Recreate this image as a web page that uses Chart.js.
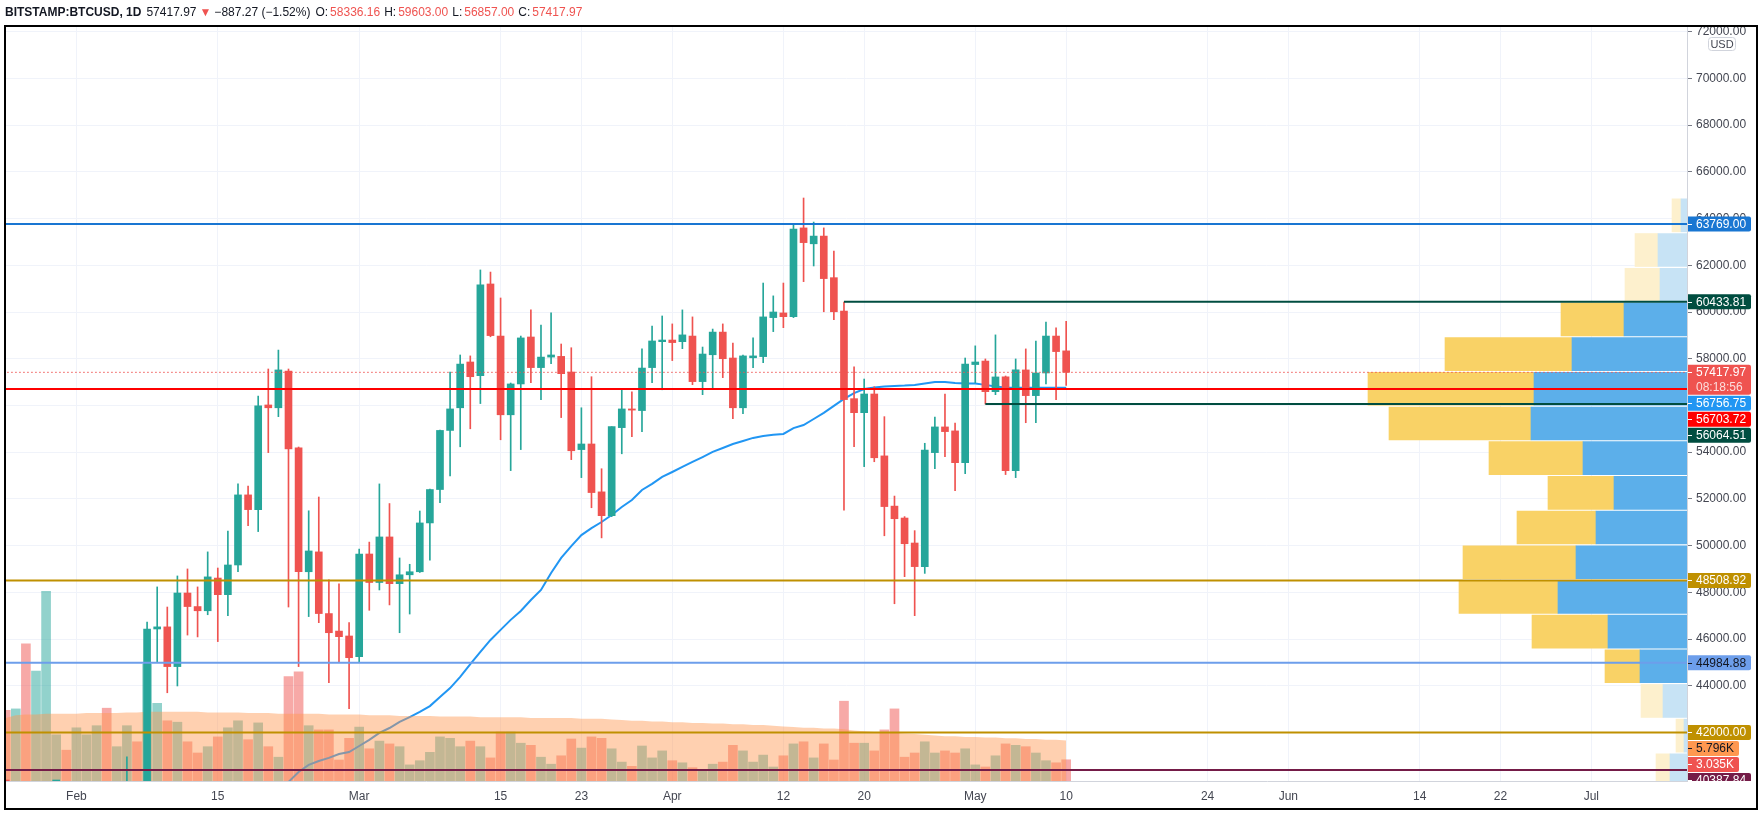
<!DOCTYPE html>
<html>
<head>
<meta charset="UTF-8" />
<title>BITSTAMP:BTCUSD, 1D</title>
<style>
  html, body { margin: 0; padding: 0; background: #fff; }
  #chartBox { width: 1761px; height: 819px; }
</style>
</head>
<body>
<div id="chartBox"><canvas id="myChart" width="1761" height="819"></canvas></div>

<script src="https://cdn.jsdelivr.net/npm/chart.js"></script>
<script>
// daily candles, index 0 = 2021-01-25, last = 2021-05-10
const firstDay = '2021-01-25';
const open = [32290, 32260, 32500, 30400, 33420, 34270, 34300, 33110, 33540, 35500,
  37660, 36950, 38300, 39270, 38900, 46430, 46520, 44820, 47970, 47390,
  47210, 48610, 47900, 49170, 52170, 51540, 56020, 55900, 57470, 54180,
  48880, 49730, 47090, 46340, 46130, 45240, 49640, 48420, 50370, 48370,
  48750, 48880, 50970, 52400, 54930, 55900, 57860, 57270, 61200, 58970,
  55600, 56920, 58930, 57620, 58070, 58100, 57430, 54110, 54350, 52300,
  51280, 55050, 55850, 55780, 57620, 58730, 58800, 58730, 58970, 57020,
  58170, 59140, 58030, 55900, 58040, 58090, 59760, 59960, 59800, 63600,
  62920, 63250, 61470, 60040, 56290, 55690, 56490, 53840, 51690, 51180,
  50110, 49100, 53980, 55080, 54910, 53550, 57750, 57900, 56590, 57220,
  53210, 57520, 56420, 57390, 58970, 58336.16];
const high = [34880, 32900, 32560, 33800, 38590, 34900, 34350, 34700, 35900, 37700,
  38700, 38300, 40960, 39700, 46730, 48230, 47370, 48700, 49000, 48230,
  49730, 49040, 50620, 52640, 52550, 56400, 57560, 58370, 57560, 54220,
  51490, 52080, 48530, 48360, 46700, 49850, 50150, 52640, 51800, 49470,
  49200, 51480, 52420, 54950, 57430, 58160, 58120, 61800, 61710, 60600,
  56960, 58970, 60090, 59440, 59960, 58630, 58470, 55900, 57230, 53290,
  55090, 56700, 56580, 58420, 59400, 59830, 59490, 60090, 59790, 58500,
  59270, 59490, 58670, 58160, 58890, 61240, 60690, 61240, 63730, 64880,
  63850, 63600, 62610, 60430, 57650, 57130, 56800, 55520, 52120, 51240,
  50640, 54380, 55500, 56490, 55240, 58030, 58550, 57990, 59020, 57260,
  57990, 58420, 58760, 59570, 59320, 59603.00];
const low = [31900, 30850, 29240, 30000, 31970, 32850, 32300, 32300, 33420, 35400,
  36200, 36600, 38200, 37400, 37950, 45030, 43700, 43990, 46170, 46090,
  47040, 45890, 47000, 48880, 50850, 50600, 53980, 55520, 47370, 44820,
  46960, 46700, 44130, 45030, 43020, 45030, 47230, 48100, 47460, 46270,
  47070, 48850, 49380, 51840, 52980, 54230, 55000, 56080, 58940, 54530,
  53210, 54110, 56970, 56250, 57790, 55480, 53680, 52910, 51620, 50330,
  51240, 53930, 54660, 54880, 56970, 56670, 57920, 58430, 56890, 56460,
  56760, 57190, 55430, 55650, 57620, 57830, 59160, 59330, 59760, 61300,
  61970, 60010, 59670, 51520, 54230, 53380, 53590, 50420, 47510, 48670,
  47000, 48810, 53290, 53810, 52350, 53080, 56970, 56060, 56460, 53040,
  52910, 55260, 55260, 56920, 56250, 56857.00];
const close = [32260, 32500, 30400, 33420, 34300, 34300, 33110, 33540, 35500, 37660,
  36950, 38300, 39270, 38900, 46430, 46520, 44820, 47970, 47390, 47210,
  48660, 47900, 49170, 52170, 51540, 55980, 55900, 57520, 54140, 48880,
  49770, 47090, 46270, 46100, 45200, 49640, 48420, 50370, 48370, 48750,
  48880, 50970, 52400, 54930, 55850, 57770, 57230, 61160, 58990, 55600,
  56920, 58890, 57620, 58070, 58160, 57360, 54060, 54350, 52270, 51280,
  55090, 55850, 55800, 57600, 58760, 58800, 58690, 59020, 57020, 58200,
  59140, 58000, 55900, 58120, 58120, 59790, 60000, 59800, 63550, 62970,
  63250, 61430, 60010, 56250, 55690, 56490, 53760, 51670, 51150, 50080,
  49100, 54090, 55080, 54880, 53550, 57770, 57860, 56590, 57220, 53210,
  57520, 56420, 57390, 58970, 58305.24, 57417.97];

// volume, thousands of BTC
const volumeK = [10.1, 10.3, 19.6, 15.7, 27.1, 6.6, 4.4, 7.6, 6.6, 7.9,
  10.4, 4.9, 7.9, 5.6, 16.7, 11.1, 8.6, 8.4, 5.6, 4.0,
  4.9, 6.3, 7.6, 8.6, 5.9, 8.3, 4.9, 3.4, 14.9, 15.6,
  7.9, 7.3, 7.3, 3.0, 6.1, 7.7, 4.6, 5.7, 5.3, 4.9,
  2.3, 2.9, 4.1, 6.3, 6.1, 4.9, 5.7, 4.9, 3.3, 7.0,
  7.0, 5.4, 5.1, 3.4, 2.4, 3.6, 6.0, 4.7, 6.3, 6.1,
  4.6, 2.7, 2.1, 5.0, 3.3, 4.3, 2.9, 2.6, 1.9, 1.6,
  2.4, 2.7, 5.1, 4.3, 2.7, 3.7, 2.0, 3.6, 5.3, 5.6,
  3.3, 5.3, 3.0, 11.4, 5.4, 5.4, 4.3, 7.3, 10.3, 3.4,
  4.0, 5.6, 4.0, 4.3, 4.0, 4.6, 2.3, 2.0, 3.6, 5.3,
  5.1, 4.9, 4.0, 2.9, 2.6, 3.035];
const volumeMaK = [9.0, 9.4, 9.5, 9.5, 9.6, 9.6, 9.6, 9.6, 9.7, 9.7,
  9.7, 9.7, 9.8, 9.8, 9.9, 9.9, 9.9, 9.9, 9.9, 9.9,
  9.8, 9.8, 9.8, 9.8, 9.7, 9.7, 9.7, 9.6, 9.6, 9.6,
  9.6, 9.6, 9.5, 9.5, 9.5, 9.5, 9.4, 9.4, 9.4, 9.3,
  9.3, 9.3, 9.3, 9.2, 9.2, 9.2, 9.2, 9.1, 9.1, 9.1,
  9.1, 9.1, 9.0, 9.0, 9.0, 9.0, 9.0, 8.9, 8.9, 8.9,
  8.8, 8.7, 8.6, 8.6, 8.5, 8.5, 8.4, 8.4, 8.3, 8.3,
  8.2, 8.2, 8.1, 8.1, 8.0, 8.0, 7.9, 7.8, 7.7, 7.6,
  7.6, 7.5, 7.5, 7.4, 7.2, 7.1, 7.0, 6.9, 6.9, 6.8,
  6.7, 6.6, 6.5, 6.4, 6.4, 6.3, 6.3, 6.2, 6.2, 6.1,
  6.1, 6.0, 6.0, 5.9, 5.9, 5.796];

// blue moving average, from day index 26 on
const maStart = 26;
const maValues = [39110, 39540, 39880, 40310, 40610, 40780, 40910, 41080, 41160, 41420,
  41680, 41980, 42190, 42450, 42660, 42880, 43130, 43520, 43900, 44380,
  44930, 45450, 45960, 46390, 46820, 47200, 47670, 48100, 48830, 49470,
  49980, 50450, 50750, 51010, 51310, 51650, 51950, 52380, 52640, 52940,
  53150, 53370, 53580, 53790, 54010, 54180, 54350, 54480, 54610, 54690,
  54740, 54780, 55030, 55160, 55420, 55680, 55980, 56280, 56530, 56700,
  56770, 56810, 56830, 56850, 56880, 56940, 57000, 57000, 56960, 56940,
  56940, 56880, 56810, 56770, 56760, 56758, 56757, 56757, 56757, 56756.75];

// drawn horizontal levels (null start = whole width)
const levelPrices = [63769.00, 60433.81, 56703.72, 56064.51, 48508.92, 44984.88, 42000.00, 40387.84];
const levelFromDay = [null, 83, null, 97, null, null, null, null];
const levelColors = ['#1976d2', '#004d40', '#ff0000', '#004d40', '#bf9000', '#6d9eeb', '#bf9000', '#741b47'];
const levelText = ['#fff', '#fff', '#fff', '#fff', '#fff', '#131722', '#fff', '#fff'];

// visible range volume profile, rows from the top
const profilePrice = [64138.5, 62653.5, 61168.5, 59683.5, 58198.5, 56713.5, 55228.5, 53743.5, 52258.5,
  50773.5, 49288.5, 47803.5, 46318.5, 44833.5, 43348.5, 41863.5, 40378.5];
const profileUp = [6, 29, 27, 63, 115, 153, 156, 104, 73, 91, 111, 129, 79, 47, 24, 3, 17];
const profileDown = [9, 23, 35, 63, 127, 166, 142, 94, 66, 79, 113, 99, 76, 35, 22, 8, 14];
const profileValueArea = [false, false, false, true, true, true, true, true, true, true, true, true, true, true, false, false, false];

// axes
const priceTicks = [42000, 44000, 46000, 48000, 50000, 52000, 54000, 56000, 58000, 60000, 62000, 64000, 66000, 68000, 70000, 72000];
const tickDays = [7, 21, 35, 49, 57, 66, 77, 85, 96, 105, 119, 127, 140, 148, 157];
const tickLabels = ['Feb', '15', 'Mar', '15', '23', 'Apr', '12', '20', 'May', '10', '24', 'Jun', '14', '22', 'Jul'];
const countdown = '08:18:56';

const upColor = '#26a69a';
const downColor = '#ef5350';
const gridColor = '#f0f3fa';
const axisText = '#434651';
const fontFamily = '"Liberation Sans", Arial, sans-serif';
Chart.defaults.font.family = fontFamily;

const isUp = close.map((c, i) => c >= open[i]);
const candleColors = isUp.map(u => u ? upColor : downColor);
const volColors = isUp.map(u => u ? 'rgba(38,166,154,0.5)' : 'rgba(239,83,80,0.5)');

const wickData = close.map((c, i) => ({x: i, y: [low[i], high[i]]}));
const bodyData = close.map((c, i) => ({x: i, y: [open[i], c]}));
const volData = volumeK.map((v, i) => ({x: i, y: v}));
const volMaData = volumeMaK.map((v, i) => ({x: i, y: v}));
const maData = maValues.map((v, k) => ({x: maStart + k, y: v}));
const last = close.length - 1;

const levelSets = levelPrices.map((p, k) => ({
  type: 'line',
  data: [{x: levelFromDay[k] === null ? -5 : levelFromDay[k], y: p}, {x: 200, y: p}],
  borderColor: levelColors[k], borderWidth: 2, pointRadius: 0, order: 0, clip: 0
}));

const datasets = [
  { type: 'bar', data: volData, yAxisID: 'yVol', backgroundColor: volColors,
    barThickness: 9, grouped: false, order: 7, clip: 0 },
  { type: 'line', data: maData, borderColor: '#2196f3', borderWidth: 2,
    pointRadius: 0, order: 6, clip: 0 },
  { type: 'line', data: volMaData, yAxisID: 'yVol', fill: 'origin',
    backgroundColor: 'rgba(255,150,80,0.45)', borderWidth: 0, pointRadius: 0, order: 5, clip: 0 },
  { type: 'bar', data: wickData, backgroundColor: candleColors, barThickness: 1,
    grouped: false, order: 4, clip: 0 },
  { type: 'bar', data: bodyData, backgroundColor: candleColors, barThickness: 7,
    minBarLength: 1, grouped: false, order: 3, clip: 0 },
  { type: 'bar', indexAxis: 'y', xAxisID: 'xProf', yAxisID: 'y',
    data: profilePrice.map((p, k) => ({y: p, x: [0, profileUp[k]]})),
    backgroundColor: profileValueArea.map(v => v ? '#5cafea' : '#c7e3f5'),
    barThickness: 33, grouped: false, order: 2, clip: 0 },
  { type: 'bar', indexAxis: 'y', xAxisID: 'xProf', yAxisID: 'y',
    data: profilePrice.map((p, k) => ({y: p, x: [profileUp[k], profileUp[k] + profileDown[k]]})),
    backgroundColor: profileValueArea.map(v => v ? '#f9d266' : '#fdf0cd'),
    barThickness: 33, grouped: false, order: 2, clip: 0 },
  { type: 'line', data: [{x: -5, y: close[last]}, {x: 200, y: close[last]}],
    borderColor: downColor, borderWidth: 1, borderDash: [1.5, 2.5], pointRadius: 0, order: 1, clip: 0 }
].concat(levelSets);

const fmt2 = v => v.toFixed(2);

// header, price tags, frame
const overlay = {
  id: 'overlay',
  beforeDraw(chart) {
    const c = chart.ctx;
    c.save();
    c.fillStyle = '#fff';
    c.fillRect(0, 0, chart.width, chart.height);
    c.restore();
  },
  afterDraw(chart) {
    const c = chart.ctx;
    const ys = chart.scales.y, yv = chart.scales.yVol;
    const area = chart.chartArea;

    const tags = [];
    levelPrices.forEach((p, k) => tags.push({y: ys.getPixelForValue(p), lines: [fmt2(p)], bg: levelColors[k], fg: levelText[k], w: 63}));
    tags.push({y: ys.getPixelForValue(close[last]), lines: [fmt2(close[last]), countdown], bg: downColor, fg: '#fff', w: 63});
    tags.push({y: ys.getPixelForValue(maValues[maValues.length - 1]), lines: [fmt2(maValues[maValues.length - 1])], bg: '#2196f3', fg: '#fff', w: 63});
    tags.push({y: yv.getPixelForValue(volumeMaK[last]), lines: [volumeMaK[last].toFixed(3) + 'K'], bg: '#ff9850', fg: '#131722', w: 51});
    tags.push({y: yv.getPixelForValue(volumeK[last]), lines: [volumeK[last].toFixed(3) + 'K'], bg: isUp[last] ? upColor : downColor, fg: '#fff', w: 51});
    tags.sort((a, b) => a.y - b.y);
    let prevBottom = -1e9;
    tags.forEach(t => {
      t.h = t.lines.length > 1 ? 31 : 16;
      if (t.y - 8 < prevBottom) t.y = prevBottom + 8;
      prevBottom = t.y - 8 + t.h;
    });

    c.save();
    c.beginPath();
    c.rect(area.right, area.top, 80, area.bottom - area.top);
    c.clip();
    c.font = '12px ' + fontFamily;
    c.textBaseline = 'middle';
    c.textAlign = 'left';
    tags.forEach(t => {
      c.fillStyle = t.bg;
      c.beginPath();
      c.roundRect(area.right + 1, t.y - 7.5, t.w, t.h - 1, [0, 2, 2, 0]);
      c.fill();
      c.strokeStyle = t.fg;
      c.lineWidth = 1;
      c.beginPath();
      c.moveTo(area.right + 1, Math.round(t.y) + 0.5);
      c.lineTo(area.right + 5, Math.round(t.y) + 0.5);
      c.stroke();
      t.lines.forEach((s, k) => {
        c.fillStyle = k === 0 ? t.fg : 'rgba(255,255,255,0.8)';
        c.fillText(s, area.right + 9, t.y + 0.5 + k * 14.5);
      });
    });
    c.restore();

    // currency box
    c.save();
    c.fillStyle = '#fff';
    c.strokeStyle = '#d1d4dc';
    c.lineWidth = 1;
    c.beginPath();
    c.roundRect(1708.5, 37.5, 27, 13, 3);
    c.fill();
    c.stroke();
    c.fillStyle = axisText;
    c.font = '11px ' + fontFamily;
    c.textAlign = 'center';
    c.textBaseline = 'middle';
    c.fillText('USD', 1722, 44.5);
    c.restore();

    // frame
    c.save();
    c.strokeStyle = '#000';
    c.lineWidth = 2;
    c.strokeRect(5, 26, 1752, 783);
    c.restore();

    // header, laid out left to right
    const chg = close[last] - close[last - 1];
    const pct = chg / close[last - 1] * 100;
    const minus = v => (v < 0 ? '\u2212' : '+') + Math.abs(v).toFixed(2);
    const segs = [
      ['BITSTAMP:BTCUSD, 1D', true, '#131722', 5],
      [fmt2(close[last]), false, '#131722', 3],
      ['\u25BC', false, downColor, 3],
      [minus(chg) + ' (' + minus(pct) + '%)', false, '#131722', 5],
      ['O:', false, '#131722', 2], [fmt2(open[last]), false, downColor, 4],
      ['H:', false, '#131722', 2], [fmt2(high[last]), false, downColor, 4],
      ['L:', false, '#131722', 2], [fmt2(low[last]), false, downColor, 4],
      ['C:', false, '#131722', 2], [fmt2(close[last]), false, downColor, 0]
    ];
    c.save();
    c.textBaseline = 'middle';
    c.textAlign = 'left';
    let hx = 5;
    segs.forEach(s => {
      c.font = (s[1] ? 'bold ' : '') + '12px ' + fontFamily;
      c.fillStyle = s[2];
      c.fillText(s[0], hx, 13);
      hx += c.measureText(s[0]).width + s[3];
    });
    c.restore();
  }
};

const myChart = new Chart(document.getElementById('myChart'), {
  type: 'bar',
  data: { datasets },
  options: {
    responsive: false,
    animation: false,
    events: [],
    layout: { padding: { left: 6, top: 27, right: 0, bottom: 0 } },
    plugins: { legend: { display: false }, tooltip: { enabled: false } },
    scales: {
      x: {
        type: 'linear', min: 0.03, max: 166.47, offset: false,
        grid: { color: gridColor, offset: false, drawTicks: false },
        border: { display: true, color: '#d1d4dc' },
        ticks: { autoSkip: false, maxRotation: 0, padding: 8, color: axisText,
          font: { size: 12 }, callback: (v, i) => tickLabels[i] },
        afterBuildTicks: s => { s.ticks = tickDays.map(d => ({ value: d })); },
        afterFit: s => { s.height = 38; }
      },
      y: {
        type: 'linear', position: 'right', min: 39922, max: 72201,
        beginAtZero: false, offset: false,
        grid: { color: gridColor, offset: false, tickColor: '#787b86', tickLength: 5 },
        border: { display: true, color: '#d1d4dc' },
        ticks: { padding: 4, color: axisText, font: { size: 12 }, callback: v => fmt2(v) },
        afterBuildTicks: s => { s.ticks = priceTicks.map(v => ({ value: v })); },
        afterFit: s => { s.width = 74; }
      },
      yVol: { type: 'linear', display: false, min: 0, max: 754 / 7 },
      xProf: { type: 'linear', display: false, reverse: true, min: 0, max: 1681, offset: false }
    }
  },
  plugins: [overlay]
});
</script>
</body>
</html>
